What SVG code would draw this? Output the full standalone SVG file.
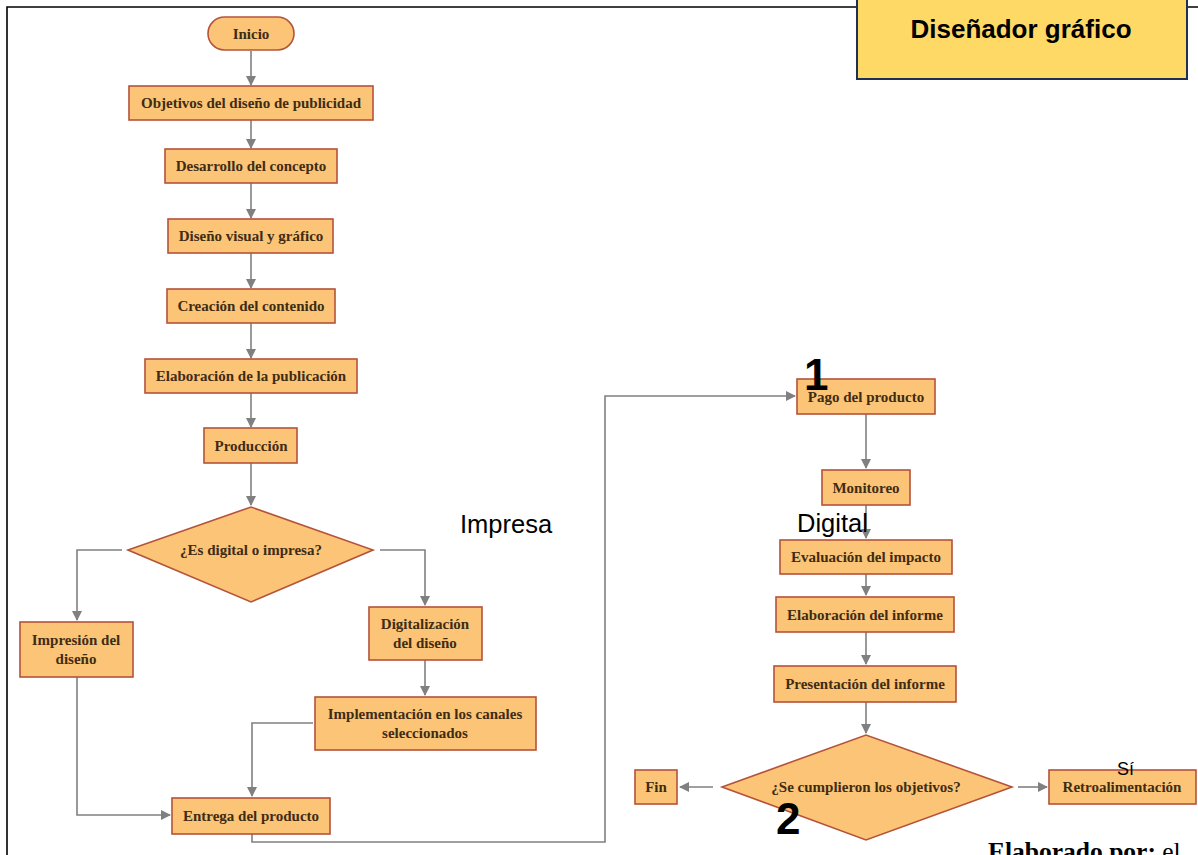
<svg xmlns="http://www.w3.org/2000/svg" width="1198" height="855" viewBox="0 0 1198 855">
  <style>
    .box { fill: #fcc476; stroke: #b4533a; stroke-width: 1.6; }
    .lbl { font-family: "Liberation Serif", "Times New Roman", serif; font-weight: bold; font-size: 15px; fill: #3e2c14; text-anchor: middle; }
    .wire { fill: none; stroke: #808080; stroke-width: 1.6; marker-end: url(#arrow); }
    .note { font-family: "Liberation Sans", Arial, sans-serif; fill: #000; }
    .big { font-family: "Liberation Sans", Arial, sans-serif; font-weight: bold; font-size: 44px; fill: #000; }
  </style>
  <defs>
    <marker id="arrow" viewBox="0 0 10 10" refX="9" refY="5" markerWidth="10" markerHeight="10" markerUnits="userSpaceOnUse" orient="auto">
      <path d="M0,0 L10,5 L0,10 z" fill="#808080"/>
    </marker>
  </defs>

  <rect width="1198" height="855" fill="#ffffff"/>

  <!-- page frame -->
  <path d="M7,855 L7,7 L1198,7" fill="none" stroke="#000" stroke-width="1.6"/>

  <!-- connectors -->
  <g id="connectors">
    <path class="wire" d="M251,51 L251,85"/>
    <path class="wire" d="M251,120 L251,148"/>
    <path class="wire" d="M251,183 L251,218"/>
    <path class="wire" d="M251,253 L251,288"/>
    <path class="wire" d="M251,323 L251,358"/>
    <path class="wire" d="M251,393 L251,427"/>
    <path class="wire" d="M251,463 L251,505"/>
    <path class="wire" d="M122,550 L77,550 L77,620"/>
    <path class="wire" d="M380,550 L425,550 L425,605"/>
    <path class="wire" d="M425,660 L425,695"/>
    <path class="wire" d="M313,723 L252,723 L252,796"/>
    <path class="wire" d="M77,677 L77,815 L170,815"/>
    <path class="wire" d="M252,834 L252,842 L605,842 L605,396 L795,396"/>
    <path class="wire" d="M866,414 L866,468"/>
    <path class="wire" d="M866,505 L866,538"/>
    <path class="wire" d="M866,574 L866,595"/>
    <path class="wire" d="M866,632 L866,664"/>
    <path class="wire" d="M866,702 L866,733"/>
    <path class="wire" d="M713,787 L680,787"/>
    <path class="wire" d="M1018,787 L1047,787"/>
  </g>

  <!-- left column -->
  <g id="inicio">
    <rect class="box" x="208" y="17" width="86" height="33" rx="16.5"/>
    <text class="lbl" x="251" y="39">Inicio</text>
  </g>
  <g id="objetivos">
    <rect class="box" x="129" y="86" width="244" height="34"/>
    <text class="lbl" x="251" y="108">Objetivos del diseño de publicidad</text>
  </g>
  <g id="desarrollo">
    <rect class="box" x="165" y="149" width="172" height="34"/>
    <text class="lbl" x="251" y="171">Desarrollo del concepto</text>
  </g>
  <g id="diseno-visual">
    <rect class="box" x="168" y="219" width="165" height="34"/>
    <text class="lbl" x="251" y="241">Diseño visual y gráfico</text>
  </g>
  <g id="creacion">
    <rect class="box" x="167" y="289" width="168" height="34"/>
    <text class="lbl" x="251" y="311">Creación del contenido</text>
  </g>
  <g id="elaboracion-publicacion">
    <rect class="box" x="145" y="359" width="212" height="34"/>
    <text class="lbl" x="251" y="381">Elaboración de la publicación</text>
  </g>
  <g id="produccion">
    <rect class="box" x="204" y="428" width="93" height="35"/>
    <text class="lbl" x="251" y="451">Producción</text>
  </g>
  <g id="decision-formato">
    <polygon class="box" points="128,550 251,507 373,550 251,602"/>
    <text class="lbl" x="251" y="555">¿Es digital o impresa?</text>
  </g>
  <g id="impresion">
    <rect class="box" x="20" y="622" width="113" height="55"/>
    <text class="lbl" x="76" y="645">Impresión del</text>
    <text class="lbl" x="76" y="664">diseño</text>
  </g>
  <g id="digitalizacion">
    <rect class="box" x="369" y="607" width="113" height="53"/>
    <text class="lbl" x="425" y="629">Digitalización</text>
    <text class="lbl" x="425" y="648">del diseño</text>
  </g>
  <g id="implementacion">
    <rect class="box" x="315" y="697" width="221" height="53"/>
    <text class="lbl" x="425" y="719">Implementación en los canales</text>
    <text class="lbl" x="425" y="738">seleccionados</text>
  </g>
  <g id="entrega">
    <rect class="box" x="172" y="798" width="158" height="36"/>
    <text class="lbl" x="251" y="821">Entrega del producto</text>
  </g>

  <!-- right column -->
  <g id="pago">
    <rect class="box" x="797" y="379" width="138" height="35"/>
    <text class="lbl" x="866" y="402">Pago del producto</text>
  </g>
  <g id="monitoreo">
    <rect class="box" x="822" y="470" width="88" height="35"/>
    <text class="lbl" x="866" y="493">Monitoreo</text>
  </g>
  <g id="evaluacion">
    <rect class="box" x="780" y="540" width="172" height="34"/>
    <text class="lbl" x="866" y="562">Evaluación del impacto</text>
  </g>
  <g id="elaboracion-informe">
    <rect class="box" x="776" y="597" width="178" height="35"/>
    <text class="lbl" x="865" y="620">Elaboración del informe</text>
  </g>
  <g id="presentacion">
    <rect class="box" x="774" y="666" width="182" height="36"/>
    <text class="lbl" x="865" y="689">Presentación del informe</text>
  </g>
  <g id="decision-objetivos">
    <polygon class="box" points="722,787 866,735 1012,787 866,840"/>
    <text class="lbl" x="866" y="792">¿Se cumplieron los objetivos?</text>
  </g>
  <g id="fin">
    <rect class="box" x="635" y="770" width="42" height="34"/>
    <text class="lbl" x="656" y="792">Fin</text>
  </g>
  <g id="retroalimentacion">
    <rect class="box" x="1049" y="770" width="147" height="34"/>
    <text class="lbl" x="1122" y="792">Retroalimentación</text>
  </g>

  <!-- title tag -->
  <g id="titulo">
    <rect x="857" y="-3" width="330" height="82" fill="#ffd966" stroke="#1f3152" stroke-width="2"/>
    <text class="note" x="1021" y="38" font-size="26" font-weight="bold" text-anchor="middle">Diseñador gráfico</text>
  </g>

  <!-- branch labels and markers -->
  <text class="note" x="460" y="533" font-size="25.5">Impresa</text>
  <text class="note" x="797" y="532" font-size="25.5">Digital</text>
  <text class="note" x="1117" y="775" font-size="18">Sí</text>
  <text class="big" x="804" y="390">1</text>
  <text class="big" x="776" y="834">2</text>

  <!-- credit line -->
  <text x="988" y="860" font-family="'Liberation Serif', 'Times New Roman', serif" font-size="25.5" fill="#000"><tspan font-weight="bold">Elaborado por:</tspan> el</text>
</svg>
